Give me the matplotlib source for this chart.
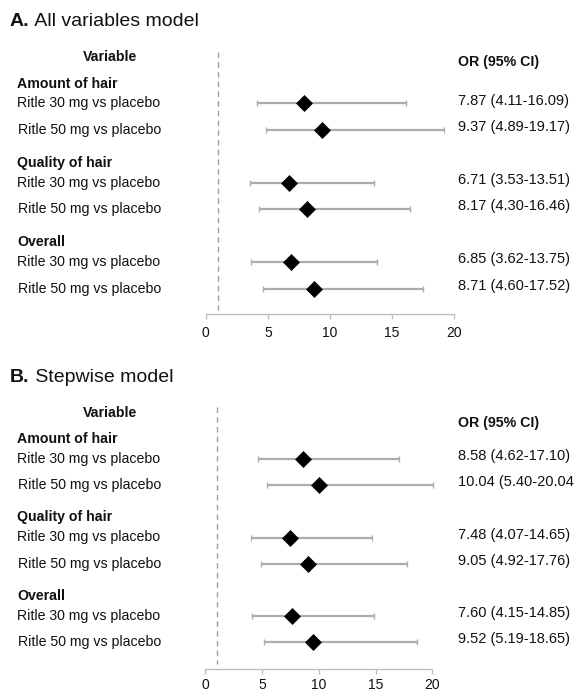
import matplotlib
matplotlib.use("Agg")
import matplotlib.pyplot as plt
from matplotlib.transforms import blended_transform_factory

plt.rcParams['font.family'] = ['Liberation Sans', 'DejaVu Sans']

# ---------------- data ----------------
groups = ["Amount of hair", "Quality of hair", "Overall"]
comparisons = ["Ritle 30 mg vs placebo", "Ritle 50 mg vs placebo"]

# Panel A: All variables model
a_or = [7.87, 9.37, 6.71, 8.17, 6.85, 8.71]
a_lo = [4.11, 4.89, 3.53, 4.30, 3.62, 4.60]
a_hi = [16.09, 19.17, 13.51, 16.46, 13.75, 17.52]
a_text = ["7.87 (4.11-16.09)", "9.37 (4.89-19.17)", "6.71 (3.53-13.51)",
          "8.17 (4.30-16.46)", "6.85 (3.62-13.75)", "8.71 (4.60-17.52)"]

# Panel B: Stepwise model
b_or = [8.58, 10.04, 7.48, 9.05, 7.60, 9.52]
b_lo = [4.62, 5.40, 4.07, 4.92, 4.15, 5.19]
b_hi = [17.10, 20.04, 14.65, 17.76, 14.85, 18.65]
b_text = ["8.58 (4.62-17.10)", "10.04 (5.40-20.04", "7.48 (4.07-14.65)",
          "9.05 (4.92-17.76)", "7.60 (4.15-14.85)", "9.52 (5.19-18.65)"]

x_ticks = [0, 5, 10, 15, 20]
ref_line = 1

# ---------------- layout (pixels from figure top) ----------------
W, H = 575, 691
fig = plt.figure(figsize=(W / 100, H / 100), dpi=100)

panels = [
    dict(title_bold="A.", title=" All variables model", title_y=22,
         ax_left=205.7, ax_right=454.3, ax_top=45, ax_bottom=314.5,
         first_row=103.5, group_gap=79.5, row_gap=26.5, header_off=-20,
         var_y=57, orh_y=62, dash=(52, 310), pad=4.5,
         orv=a_or, lo=a_lo, hi=a_hi, txt=a_text),
    dict(title_bold="B.", title=" Stepwise model", title_y=378,
         ax_left=205.3, ax_right=432.3, ax_top=399, ax_bottom=669,
         first_row=459, group_gap=78.5, row_gap=26.3, header_off=-20,
         var_y=413, orh_y=423, dash=(407, 664), pad=3.0,
         orv=b_or, lo=b_lo, hi=b_hi, txt=b_text),
]

label_x = 17 / W
var_x = 110 / W
or_x = 458 / W
title_x = 10 / W
gray_bar = '#adadad'
text_col = '#111111'

for p in panels:
    ax = fig.add_axes([p['ax_left'] / W, 1 - p['ax_bottom'] / H,
                       (p['ax_right'] - p['ax_left']) / W,
                       (p['ax_bottom'] - p['ax_top']) / H])
    ax.set_xlim(x_ticks[0], x_ticks[-1])
    ax.set_ylim(p['ax_bottom'], p['ax_top'])
    ax.patch.set_alpha(0)
    for s in ['left', 'right', 'top']:
        ax.spines[s].set_visible(False)
    ax.spines['bottom'].set_color('#bfbfbf')
    ax.spines['bottom'].set_linewidth(1.0)
    ax.set_yticks([])
    ax.set_xticks(x_ticks)
    ax.tick_params(axis='x', direction='out', length=3.5, width=1.0,
                   color='#bfbfbf', labelsize=10, labelcolor=text_col, pad=p['pad'])

    tr = blended_transform_factory(fig.transFigure, ax.transData)

    # reference dashed line
    ax.plot([ref_line, ref_line], list(p['dash']), color='#a0a0a0',
            lw=1.0, ls=(0, (4, 3)), clip_on=False)

    ys = []
    for g, gname in enumerate(groups):
        base = p['first_row'] + g * p['group_gap']
        ax.text(label_x, base + p['header_off'], gname, transform=tr,
                fontsize=10.2, fontweight='bold', va='center', ha='left', color=text_col)
        for i, cname in enumerate(comparisons):
            y = base + i * p['row_gap']
            ys.append(y)
            ax.text(label_x + (1 / W if i == 1 else 0), y, cname, transform=tr,
                    fontsize=10.2, va='center', ha='left', color=text_col)

    for k, y in enumerate(ys):
        ax.errorbar(p['orv'][k], y,
                    xerr=[[p['orv'][k] - p['lo'][k]], [p['hi'][k] - p['orv'][k]]],
                    fmt='none', ecolor=gray_bar, elinewidth=1.6, capsize=2.0,
                    capthick=1.0, clip_on=False, zorder=2)
        ax.plot(p['orv'][k], y, marker='D', ms=8.6, color='black',
                mec='black', mew=0.5, ls='none', clip_on=False, zorder=3)
        ax.text(or_x, y - 3, p['txt'][k], transform=tr, fontsize=10.5,
                va='center', ha='left', color=text_col)

    ax.text(var_x, p['var_y'], "Variable", transform=tr, fontsize=10.2,
            fontweight='bold', ha='center', va='center', color=text_col)
    ax.text(or_x, p['orh_y'], "OR (95% CI)", transform=tr, fontsize=10.2,
            fontweight='bold', ha='left', va='center', color=text_col)

    t1 = ax.text(title_x, p['title_y'], p['title_bold'], transform=tr,
                 fontsize=14, fontweight='bold', ha='left', va='center', color=text_col)
    ax.annotate(p['title'], xy=(1, 0), xycoords=t1, fontsize=14,
                ha='left', va='bottom', color=text_col)

fig.savefig("out.png", dpi=100)
